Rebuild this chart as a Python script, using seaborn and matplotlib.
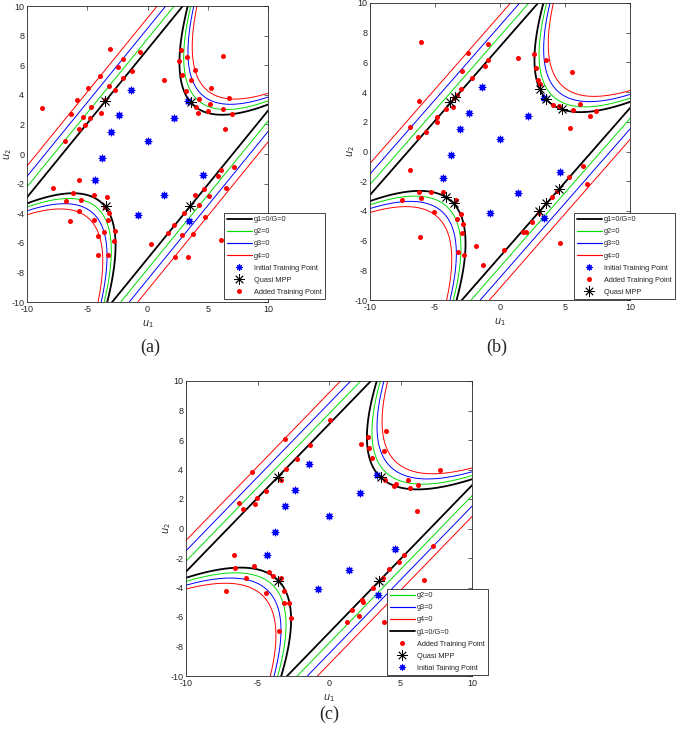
import numpy as np
import matplotlib
matplotlib.use("Agg")
import matplotlib.pyplot as plt
from matplotlib.lines import Line2D
import seaborn as sns

sns.set_theme(style="white")
plt.rcParams['font.family'] = ['Liberation Sans', 'DejaVu Sans']
plt.rcParams['mathtext.fontset'] = 'dejavusans'
plt.rcParams['axes.unicode_minus'] = False

# limit-state offsets (four-branch series system), one per g_i
G_NAMES = ["g1=0/G=0", "g2=0", "g3=0", "g4=0"]
G_BETA = [5.0, 5.5, 6.0, 6.5]
G_COLORS = ["black", "#00dd00", "#0000ff", "#ff0000"]
G_LW = [1.3, 0.7, 0.7, 0.7]
CURV = 0.1

# initial training points (same in all three panels)
init_u1 = [-1.39, -2.35, -3.05, 0.02, 2.17, 3.35, -3.78, -4.37, -0.77, 1.37, 4.64, 3.41]
init_u2 = [4.34, 2.61, 1.50, 0.85, 2.40, 3.60, -0.25, -1.78, -4.13, -2.79, -1.39, -4.50]

# panel (a)
a_add_u1 = [-8.76, -3.14, -0.66, -3.97, -2.45, -2.07, -1.29, -2.01, -4.90, -3.20, -2.67,
            -5.84, -3.55, -4.68, -6.36, -5.35, -4.74, -3.83, -5.18, -5.65, -6.86, 1.35,
            2.75, 3.31, 2.59, 2.87, 3.94, 3.61, 3.20, 6.25, 5.29, 6.75, 4.27, 5.15, 4.05,
            6.25, 5.01, 4.19, 7.00, 6.47,
            -7.85, -5.65, -6.17, -6.78, -5.54, -4.46, -3.36, -3.55, -5.65, -3.17, -6.42,
            -4.46, -3.25, -3.64, -2.67, -4.07, -2.75, -4.07, -3.28,
            0.27, 1.71, 2.20, 2.87, 3.00, 3.80, 4.27, 3.97, 4.77, 4.68, 5.12, 5.81, 6.09,
            6.55, 7.14, 6.14, 2.29, 3.39]
a_add_u2 = [3.09, 7.12, 6.87, 5.29, 5.88, 6.44, 5.61, 5.11, 4.48, 4.61, 4.32,
            3.65, 3.65, 3.20, 2.72, 2.52, 2.43, 2.79, 1.98, 1.67, 0.86, 5.02,
            7.03, 6.57, 6.28, 5.32, 5.70, 5.00, 4.26, 6.64, 4.44, 3.80, 3.74, 3.36, 3.15,
            3.02, 2.91, 2.75, 2.72, 1.67,
            -2.30, -1.76, -2.66, -3.18, -3.09, -2.75, -2.91, -3.60, -3.83, -4.01, -4.53,
            -4.46, -4.44, -5.25, -5.20, -5.56, -5.88, -6.82, -6.82,
            -6.06, -5.32, -4.78, -5.47, -4.01, -5.38, -3.47, -2.77, -4.28, -2.36, -2.84,
            -1.51, -1.06, -2.28, -0.86, -5.79, -6.98, -6.98]
a_mpp_u1 = [-3.55, 3.61, -3.44, 3.55]
a_mpp_u2 = [3.55, 3.49, -3.51, -3.51]

# panel (b)
b_add_u1 = [-6.05, -2.44, -0.95, -0.92, -1.18, -2.95, -2.18, -2.98, -3.28, -3.54, -3.64,
            -4.18, -6.25, -4.82, -4.87, -6.90, -5.69, -6.28,
            1.41, 2.59, 3.54, 2.79, 2.95, 3.10, 5.54, 6.15, 4.08, 4.54, 5.59, 7.36, 6.95, 5.38,
            -6.90, -6.21, -5.28, -7.52, -6.10, -4.38, -3.36, -5.05, -3.02, -3.31, -2.85,
            -2.90, -6.13, -3.25, -2.77, -1.87, -1.28, 0.31,
            1.74, 2.00, 2.44, 3.03, 4.03, 4.38, 5.33, 6.36, 6.72, 4.64]
b_add_u2 = [7.39, 6.63, 7.21, 6.18, 5.75, 5.43, 4.92, 4.20, 3.82, 3.57, 3.03,
            2.89, 3.41, 2.29, 2.00, 1.66, 1.32, 1.00,
            6.29, 6.58, 6.13, 5.62, 4.83, 4.54, 5.32, 3.19, 3.10, 3.08, 2.80, 2.74, 2.42, 1.59,
            -1.22, -2.70, -2.70, -3.26, -3.11, -2.74, -3.26, -4.09, -4.23, -4.52, -4.88,
            -5.47, -5.74, -6.75, -6.97, -6.35, -7.67, -6.66,
            -5.42, -5.42, -4.73, -4.16, -3.04, -2.68, -1.74, -0.97, -2.19, -6.14]
b_mpp_u1 = [-3.85, -3.46, 3.10, 3.51, 4.74, -4.18, -3.54, 3.00, 3.51, 4.54]
b_mpp_u2 = [3.30, 3.66, 4.20, 3.53, 2.89, -3.04, -3.45, -4.00, -3.49, -2.54]

# panel (c)
c_add_u1 = [0.09, -3.08, -1.35, -2.21, -5.38, -2.99, -3.34, -4.41, -6.27, -5.01, -5.15, -6.04,
            2.71, 3.99, 2.21, 2.77, 3.85, 3.01, 7.76, 3.89, 4.66, 4.57, 5.52, 5.64, 6.25, 6.13,
            -6.66, -6.55, -5.22, -5.78, -4.17, -3.92, -3.36, -3.15, -7.18, -4.41, -3.13,
            -2.80, -2.66, -3.47,
            1.26, 1.63, 2.12, 2.29, 2.40, 3.08, 3.80, 4.22, 4.87, 5.22, 7.29, 6.66, 3.85]
c_add_u2 = [7.35, 6.04, 5.66, 4.68, 3.82, 4.03, 3.32, 2.51, 1.74, 2.06, 1.63, 1.33,
            6.22, 6.61, 5.72, 5.47, 5.25, 4.77, 3.94, 3.28, 3.05, 2.87, 3.26, 2.72, 2.94, 1.17,
            -1.81, -2.70, -2.56, -3.37, -2.94, -3.24, -3.35, -4.21, -4.24, -4.39, -5.05,
            -5.05, -6.04, -6.93,
            -6.34, -5.55, -5.91, -4.87, -4.98, -4.05, -3.37, -2.72, -2.27, -1.79, -1.20,
            -3.51, -6.34]
c_mpp_u1 = [-3.59, 3.61, -3.55, 3.52]
c_mpp_u2 = [3.48, 3.48, -3.58, -3.58]

W, H = 685, 730
fig = plt.figure(figsize=(W / 100, H / 100), dpi=100)
fig.patch.set_facecolor("white")

# pixel boxes (left, top, right, bottom) of each panel
panels = [
    dict(tag="(a)", box=(27, 6, 268, 302), leg=(224, 299), txt=(150, 347),
         add=(a_add_u1, a_add_u2), mpp=(a_mpp_u1, a_mpp_u2),
         order=["g1=0/G=0", "g2=0", "g3=0", "g4=0", "Initial Training Point",
                "Quasi MPP", "Added Training Point"]),
    dict(tag="(b)", box=(370, 3, 630, 300), leg=(574, 299), txt=(497, 347),
         add=(b_add_u1, b_add_u2), mpp=(b_mpp_u1, b_mpp_u2),
         order=["g1=0/G=0", "g2=0", "g3=0", "g4=0", "Initial Training Point",
                "Added Training Point", "Quasi MPP"]),
    dict(tag="(c)", box=(186, 381, 472, 676), leg=(387, 675), txt=(329, 714),
         add=(c_add_u1, c_add_u2), mpp=(c_mpp_u1, c_mpp_u2),
         order=["g2=0", "g3=0", "g4=0", "g1=0/G=0", "Added Training Point",
                "Quasi MPP", "Initial Taining Point"]),
]


def limit_state(u1, u2, beta):
    d = u1 - u2
    s = (u1 + u2) / np.sqrt(2)
    return np.minimum.reduce([beta + CURV * d ** 2 - s,
                              beta + CURV * d ** 2 + s,
                              d + beta * np.sqrt(2),
                              -d + beta * np.sqrt(2)])


grid = np.linspace(-10.5, 10.5, 901)
U1, U2 = np.meshgrid(grid, grid)

AST = (8, 2, 0)
axis_col = "#262626"

for p in panels:
    l, t, r, b = p["box"]
    ax = fig.add_axes([l / W, 1 - b / H, (r - l) / W, (b - t) / H])
    handles = {}
    for name, beta, col, lw in list(zip(G_NAMES, G_BETA, G_COLORS, G_LW))[::-1]:
        ax.contour(U1, U2, limit_state(U1, U2, beta), levels=[0],
                   colors=[col], linewidths=lw, zorder=2)
        handles[name] = Line2D([], [], color=col, lw=max(lw, 0.85))

    sns.scatterplot(x=init_u1, y=init_u2, ax=ax, marker=AST, color="#0000ff",
                    s=22, linewidth=0.9, legend=False, zorder=4)
    sns.scatterplot(x=p["add"][0], y=p["add"][1], ax=ax, marker="o", color="#ff0000",
                    s=13, linewidth=0, legend=False, zorder=5)
    sns.scatterplot(x=p["mpp"][0], y=p["mpp"][1], ax=ax, marker=AST, color="black",
                    s=55, linewidth=0.6, legend=False, zorder=6)

    star_init = Line2D([], [], ls="none", marker=AST, color="#0000ff", ms=4.5, mew=0.8)
    handles["Initial Training Point"] = star_init
    handles["Initial Taining Point"] = star_init
    handles["Added Training Point"] = Line2D([], [], ls="none", marker="o",
                                            color="#ff0000", ms=3.6, mew=0)
    handles["Quasi MPP"] = Line2D([], [], ls="none", marker=AST, color="black",
                                  ms=7.5, mew=0.6)

    ax.set_xlim(-10, 10)
    ax.set_ylim(-10, 10)
    ax.set_xticks([-10, -5, 0, 5, 10])
    ax.set_yticks(np.arange(-10, 11, 2))
    ax.tick_params(direction="in", top=True, right=True, length=3, width=0.5,
                   labelsize=6.5, colors=axis_col, pad=2)
    for sp in ax.spines.values():
        sp.set_color(axis_col)
        sp.set_linewidth(0.6)
    ax.set_xlabel(r"$u_1$", fontsize=7, labelpad=3, color=axis_col)
    ax.set_ylabel(r"$u_2$", fontsize=7, color=axis_col)
    ax.yaxis.set_label_coords(-13.0 / (r - l), 0.5)

    lx, ly = p["leg"]
    leg = ax.legend([handles[k] for k in p["order"]], p["order"],
                    loc="lower left", bbox_to_anchor=(lx / W, 1 - ly / H),
                    bbox_transform=fig.transFigure, borderaxespad=0,
                    fontsize=5.3, handlelength=3.4, handletextpad=0.3,
                    labelspacing=0.68, borderpad=0.4, fancybox=False,
                    framealpha=1, edgecolor=axis_col)
    leg.get_frame().set_linewidth(0.6)
    leg.set_zorder(10)

    fig.text(p["txt"][0] / W, 1 - p["txt"][1] / H, p["tag"], ha="center", va="center",
             fontsize=13, family=["Liberation Serif", "DejaVu Serif"])

fig.savefig("out.png", dpi=100)
